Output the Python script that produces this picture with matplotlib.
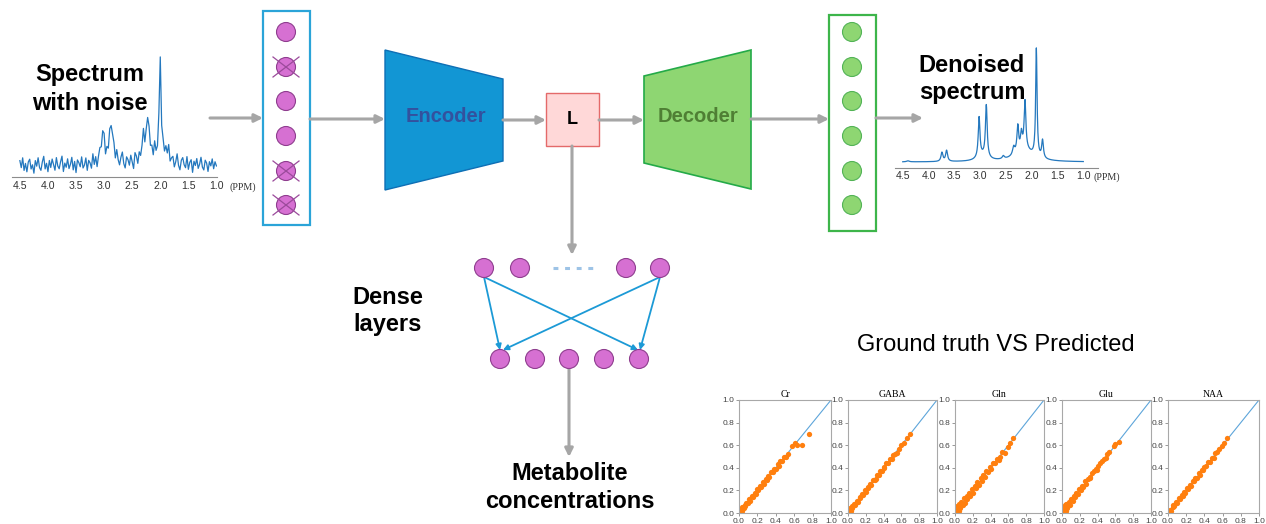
import numpy as np
import matplotlib
matplotlib.use("Agg")
import matplotlib.pyplot as plt
from matplotlib.patches import Circle, Polygon, Rectangle

plt.rcParams["font.family"] = ["Liberation Sans", "DejaVu Sans"]

# ---------------------------------------------------------------- data
ppm_ticks = [4.5, 4.0, 3.5, 3.0, 2.5, 2.0, 1.5, 1.0]

# noisy input spectrum: resonances (ppm, height, half width)
noisy_ppm = [3.025, 2.875, 2.30, 2.225, 2.00, 1.875, 2.15, 2.90]
noisy_height = [30, 40, 18, 42, 100, 14, 10, 6]
noisy_hwhm = [0.03, 0.03, 0.03, 0.025, 0.02, 0.03, 0.20, 0.15]
noise_level = 1.4
noise = [3, -2, 5, -4, 1, -5, 2, 4, -3, 0,
         -6, 3, -1, 5, -2, -4, 2, 6, -3, 1,
         -5, 3, -2, 4, 0, -4, 5, -1, -3, 2,
         6, -5, 1, -2, 4, -3, 0, 5, -4, 2,
         -6, 3, 1, -2, 5, -3, -1, 4, -5, 2,
         0, -4, 6, -2, 3, -5, 1, 4, -3, -1,
         5, -4, 2, -2, 3, -6, 0, 4, -3, 5,
         -1, -4, 2, 6, -2, -5, 3, 1, -3, 4,
         -1, -6, 5, 2, -4, 3, -2, 0, 5, -3,
         1, -5, 4, -1, 2, -4, 6, -2, -3, 3,
         0, -5, 4, -1, 2, -6, 5, -3, 1, 3,
         -4, 0, 6, -2, -5, 2, 4, -1, -3, 5,
         -4, 1, 3, -6, 2, -1, 4, -3, 0, 5,
         -2, -4, 3, 1, -5, 2, -1, 4, -3, 2,
         -1]

# denoised output spectrum: resonances (ppm, height, half width)
clean_ppm = [3.74, 3.65, 3.02, 2.88, 2.55, 2.35, 2.27, 2.20, 2.13, 1.91, 1.79, 2.15, 2.95, 4.40]
clean_height = [9, 11, 40, 52, 3, 8, 26, 16, 48, 108, 18, 12, 5, 1]
clean_hwhm = [0.022, 0.022, 0.02, 0.02, 0.025, 0.025, 0.02, 0.02, 0.02, 0.016, 0.02, 0.20, 0.12, 0.03]

# ground truth vs predicted concentrations
metabolites = ["Cr", "GABA", "Gln", "Glu", "NAA"]
cr_true = [0.00, 0.01, 0.02, 0.03, 0.03, 0.05, 0.06, 0.07, 0.08, 0.10,
           0.11, 0.12, 0.14, 0.15, 0.17, 0.18, 0.20, 0.21, 0.23, 0.24,
           0.26, 0.27, 0.29, 0.30, 0.32, 0.33, 0.35, 0.37, 0.38, 0.40,
           0.42, 0.43, 0.45, 0.47, 0.49, 0.51, 0.53, 0.58, 0.61, 0.63,
           0.69, 0.76]
cr_pred = [0.01, 0.03, 0.01, 0.05, 0.02, 0.04, 0.07, 0.06, 0.09, 0.09,
           0.12, 0.11, 0.15, 0.14, 0.18, 0.17, 0.21, 0.20, 0.24, 0.23,
           0.27, 0.26, 0.30, 0.29, 0.33, 0.32, 0.36, 0.36, 0.39, 0.39,
           0.43, 0.42, 0.46, 0.46, 0.50, 0.50, 0.52, 0.59, 0.62, 0.60,
           0.60, 0.70]
gaba_true = [0.00, 0.01, 0.02, 0.03, 0.04, 0.05, 0.07, 0.08, 0.10, 0.11,
             0.13, 0.14, 0.16, 0.17, 0.19, 0.20, 0.22, 0.23, 0.25, 0.26,
             0.28, 0.30, 0.31, 0.33, 0.35, 0.36, 0.38, 0.40, 0.41, 0.43,
             0.45, 0.47, 0.49, 0.51, 0.53, 0.55, 0.57, 0.60, 0.63, 0.66,
             0.70]
gaba_pred = [0.02, 0.00, 0.04, 0.02, 0.06, 0.04, 0.08, 0.07, 0.11, 0.10,
             0.14, 0.13, 0.17, 0.16, 0.20, 0.19, 0.23, 0.22, 0.26, 0.25,
             0.29, 0.29, 0.30, 0.34, 0.34, 0.37, 0.37, 0.41, 0.40, 0.44,
             0.44, 0.48, 0.48, 0.51, 0.52, 0.53, 0.57, 0.60, 0.62, 0.66,
             0.70]
gln_true = [0.00, 0.01, 0.02, 0.02, 0.04, 0.05, 0.06, 0.07, 0.09, 0.10,
            0.11, 0.13, 0.14, 0.16, 0.17, 0.19, 0.20, 0.22, 0.24, 0.25,
            0.27, 0.29, 0.30, 0.32, 0.34, 0.35, 0.37, 0.39, 0.41, 0.43,
            0.45, 0.47, 0.49, 0.51, 0.53, 0.56, 0.59, 0.62, 0.65]
gln_pred = [0.03, 0.00, 0.06, 0.01, 0.02, 0.08, 0.04, 0.10, 0.07, 0.13,
            0.09, 0.15, 0.12, 0.18, 0.15, 0.21, 0.18, 0.24, 0.22, 0.27,
            0.25, 0.31, 0.28, 0.34, 0.32, 0.37, 0.36, 0.41, 0.39, 0.44,
            0.44, 0.48, 0.47, 0.50, 0.54, 0.53, 0.58, 0.62, 0.66]
glu_true = [0.00, 0.00, 0.01, 0.02, 0.03, 0.04, 0.05, 0.06, 0.08, 0.09,
            0.10, 0.12, 0.13, 0.15, 0.16, 0.18, 0.19, 0.21, 0.22, 0.24,
            0.26, 0.27, 0.29, 0.31, 0.32, 0.34, 0.36, 0.38, 0.39, 0.41,
            0.43, 0.45, 0.47, 0.49, 0.51, 0.53, 0.58, 0.60, 0.64]
glu_pred = [0.02, 0.05, 0.00, 0.04, 0.07, 0.02, 0.08, 0.04, 0.10, 0.07,
            0.12, 0.11, 0.15, 0.14, 0.18, 0.17, 0.21, 0.20, 0.24, 0.23,
            0.28, 0.26, 0.30, 0.32, 0.31, 0.35, 0.37, 0.39, 0.38, 0.42,
            0.44, 0.46, 0.48, 0.49, 0.52, 0.54, 0.59, 0.61, 0.63]
naa_true = [0.00, 0.01, 0.02, 0.03, 0.05, 0.06, 0.07, 0.09, 0.10, 0.12,
            0.13, 0.15, 0.16, 0.18, 0.19, 0.21, 0.22, 0.24, 0.25, 0.27,
            0.29, 0.30, 0.32, 0.34, 0.35, 0.37, 0.39, 0.40, 0.42, 0.44,
            0.46, 0.48, 0.50, 0.52, 0.54, 0.56, 0.59, 0.62, 0.65]
naa_pred = [0.01, 0.00, 0.03, 0.02, 0.05, 0.07, 0.06, 0.10, 0.09, 0.13,
            0.12, 0.16, 0.15, 0.19, 0.18, 0.22, 0.21, 0.25, 0.24, 0.28,
            0.28, 0.31, 0.31, 0.35, 0.34, 0.38, 0.38, 0.41, 0.42, 0.45,
            0.45, 0.49, 0.49, 0.53, 0.54, 0.57, 0.59, 0.62, 0.66]
truth_sets = [cr_true, gaba_true, gln_true, glu_true, naa_true]
pred_sets = [cr_pred, gaba_pred, gln_pred, glu_pred, naa_pred]
scatter_ticks = [0.0, 0.2, 0.4, 0.6, 0.8, 1.0]

# network nodes
input_dropped = [False, True, False, False, True, True]
output_nodes = 6
dense_top_count = 4
dense_bottom_count = 5

# ---------------------------------------------------------------- figure
W, H = 1266, 524
fig = plt.figure(figsize=(W / 100, H / 100), dpi=100)
ax = fig.add_axes([0, 0, 1, 1])
ax.set_xlim(0, W)
ax.set_ylim(H, 0)
ax.axis("off")


def px_axes(x0, y0, x1, y1):
    a = fig.add_axes([x0 / W, 1 - y1 / H, (x1 - x0) / W, (y1 - y0) / H])
    a.set_facecolor("none")
    return a


def lorentz_sum(x, centers, heights, widths):
    y = np.zeros_like(x)
    for c, h, w in zip(centers, heights, widths):
        y += h / (1 + ((x - c) / w) ** 2)
    return y


GRAY = "#A6A6A6"


def arrow(x0, y0, x1, y1, color=GRAY, lw=2.2, ms=12):
    ax.annotate("", xy=(x1, y1), xytext=(x0, y0),
                arrowprops=dict(arrowstyle="-|>", color=color, lw=lw,
                                mutation_scale=ms, shrinkA=0, shrinkB=0))


def bold_text(x, y, s, size=17, color="black", weight="bold"):
    ax.text(x, y, s, ha="center", va="center", fontsize=size,
            fontweight=weight, color=color)


def style_spectrum(a, xlim, ylim, pad):
    a.set_xlim(*xlim)
    a.set_ylim(*ylim)
    for side in ["top", "left", "right"]:
        a.spines[side].set_visible(False)
    a.spines["bottom"].set_color("#8C8C8C")
    a.spines["bottom"].set_linewidth(0.8)
    a.set_yticks([])
    a.set_xticks(ppm_ticks)
    a.set_xticklabels([f"{t:.1f}" for t in ppm_ticks])
    a.tick_params(axis="x", length=0, pad=pad, labelsize=7.6, labelcolor="#333333")


# noisy spectrum
ax_n = px_axes(12, 50, 217, 177)
grid_n = np.linspace(4.5, 1.0, len(noise))
spec_n = lorentz_sum(grid_n, noisy_ppm, noisy_height, noisy_hwhm) + noise_level * np.array(noise)
ax_n.plot(grid_n, spec_n, color="#2478BE", lw=0.9)
style_spectrum(ax_n, (4.64, 0.99), (-12, 115), 3.0)
ax.text(229, 187, "(PPM)", fontsize=7.2, family="Liberation Serif", color="#333333",
        ha="left", va="center")

# denoised spectrum
ax_d = px_axes(895, 40, 1098, 168.3)
grid_d = np.linspace(4.5, 1.0, 701)
spec_d = lorentz_sum(grid_d, clean_ppm, clean_height, clean_hwhm)
ax_d.plot(grid_d, spec_d, color="#2478BE", lw=0.9)
style_spectrum(ax_d, (4.65, 0.715), (-6.3, 122), 2.0)
ax.text(1094, 177, "(PPM)", fontsize=7.2, family="Liberation Serif", color="#333333",
        ha="left", va="center")

bold_text(90, 75, "Spectrum")
bold_text(90, 103, "with noise")
bold_text(972, 65, "Denoised")
bold_text(972, 93, "spectrum")

# input layer with dropped nodes
PURPLE = "#D670D2"
PURPLE_EDGE = "#8E3D8E"
ax.add_patch(Rectangle((263, 11), 47, 214, fill=False, ec="#2BA4D8", lw=1.6))
node_y = [32, 67, 101, 136, 171, 205]
for y, dropped in zip(node_y, input_dropped):
    ax.add_patch(Circle((286, y), 9.5, fc=PURPLE, ec=PURPLE_EDGE, lw=0.8))
    if dropped:
        ax.plot([273, 299], [y - 10, y + 10], color="#9B4A9B", lw=0.9)
        ax.plot([273, 299], [y + 10, y - 10], color="#9B4A9B", lw=0.9)

# encoder, latent, decoder
ax.add_patch(Polygon([(385, 50), (503, 79), (503, 161), (385, 190)], closed=True,
                     fc="#1296D4", ec="#0E6FB5", lw=1.0))
ax.add_patch(Rectangle((546, 93), 53, 53, fc="#FFD8D8", ec="#E46A6A", lw=1.0))
ax.add_patch(Polygon([(644, 76), (751, 50), (751, 189), (644, 163)], closed=True,
                     fc="#8ED672", ec="#24AA48", lw=1.2))
bold_text(446, 117, "Encoder", size=14.5, color="#33519E")
bold_text(698, 117, "Decoder", size=14.5, color="#4F7F34")
bold_text(572, 120, "L", size=13)

# output layer
ax.add_patch(Rectangle((829, 15), 47, 216, fill=False, ec="#3DB54A", lw=1.6))
for y in node_y[:output_nodes]:
    ax.add_patch(Circle((852, y), 9.5, fc="#8ED672", ec="#52B356", lw=0.8))

# flow arrows
arrow(210, 118, 263, 118)
arrow(310, 119, 385, 119)
arrow(503, 120, 546, 120)
arrow(599, 120, 644, 120)
arrow(751, 119, 829, 119)
arrow(876, 118, 923, 118)
arrow(572, 146, 572, 255)
arrow(569, 368, 569, 457)

# dense layers
top_x = [484, 520, 626, 660][:dense_top_count]
bottom_x = [500, 535, 569, 604, 639][:dense_bottom_count]
ax.plot([553, 596], [268, 268], ls=(0, (1.6, 2.2)), color="#9DC3E6", lw=2.2)
BLUE = "#1C9AD6"
arrow(484, 277, 500, 350, color=BLUE, lw=1.3, ms=8)
arrow(484, 277, 638, 350, color=BLUE, lw=1.3, ms=8)
arrow(660, 277, 503, 350, color=BLUE, lw=1.3, ms=8)
arrow(660, 277, 640, 350, color=BLUE, lw=1.3, ms=8)
for x in top_x:
    ax.add_patch(Circle((x, 268), 9.5, fc=PURPLE, ec=PURPLE_EDGE, lw=0.8, zorder=3))
for x in bottom_x:
    ax.add_patch(Circle((x, 359), 9.5, fc=PURPLE, ec=PURPLE_EDGE, lw=0.8, zorder=3))

bold_text(388, 297, "Dense")
bold_text(388, 325, "layers")
bold_text(570, 473, "Metabolite")
bold_text(570, 502, "concentrations")
bold_text(996, 345, "Ground truth VS Predicted", size=17, weight="normal")

# ground truth vs predicted panels
panel_x = [(739, 831), (848, 937), (955, 1044), (1062, 1151), (1168, 1259)]
for (x0, x1), name, t, p in zip(panel_x, metabolites, truth_sets, pred_sets):
    a = px_axes(x0, 400, x1, 513)
    a.plot([0, 1], [0, 1], color="#5DA5DA", lw=0.8, zorder=1)
    a.plot(t, p, ls="none", marker="o", ms=3.8, mew=0, color="#FF7F0E", zorder=2)
    a.set_xlim(0, 1)
    a.set_ylim(0, 1)
    a.set_xticks(scatter_ticks)
    a.set_yticks(scatter_ticks)
    a.set_xticklabels([f"{v:.1f}" for v in scatter_ticks])
    a.set_yticklabels([f"{v:.1f}" for v in scatter_ticks])
    a.tick_params(labelsize=6, labelcolor="#444444", length=2, width=0.6,
                  color="#888888", pad=1.5)
    for s in a.spines.values():
        s.set_color("#A8A8A8")
        s.set_linewidth(0.8)
    a.set_title(name, fontsize=7, family="Liberation Serif", pad=2.5)

fig.savefig("out.png", dpi=100, facecolor="white")
